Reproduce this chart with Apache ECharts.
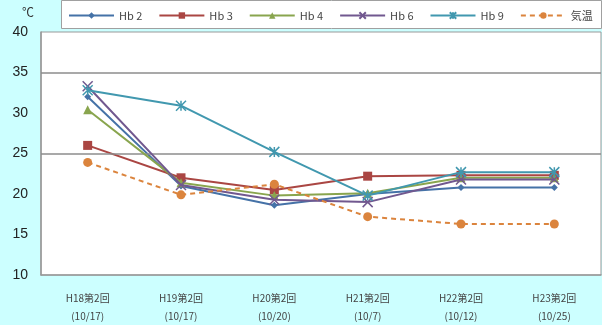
<!DOCTYPE html>
<html>
<head>
<meta charset="utf-8">
<script src="https://cdn.jsdelivr.net/npm/echarts@6/dist/echarts.min.js"></script>
<style>
html,body{margin:0;padding:0;background:#ccffff;}
#c{width:602px;height:325px;}
</style>
</head>
<body>
<div id="c"></div>
<script>
const categories = ['H18第2回\n(10/17)', 'H19第2回\n(10/17)', 'H20第2回\n(10/20)', 'H21第2回\n(10/7)', 'H22第2回\n(10/12)', 'H23第2回\n(10/25)'];
const seriesNames = ['Hb 2', 'Hb 3', 'Hb 4', 'Hb 6', 'Hb 9', '気温'];
const hb2 = [32.0, 21.0, 18.6, 20.0, 20.8, 20.8];
const hb3 = [26.0, 22.0, 20.5, 22.2, 22.3, 22.3];
const hb4 = [30.4, 21.4, 19.8, 20.1, 22.0, 22.0];
const hb6 = [33.3, 21.1, 19.3, 19.0, 21.8, 21.8];
const hb9 = [32.8, 30.9, 25.2, 19.8, 22.7, 22.7];
const kion = [23.9, 19.9, 21.2, 17.2, 16.3, 16.3];
const yTicks = [10, 15, 20, 25, 30, 35, 40];
const gridValues = [25, 35];

const colors = ['#4572A7', '#AA4643', '#89A54E', '#71588F', '#4198AF', '#DB843D'];
const xPath = 'path://M0,0L10,10M10,0L0,10';
const starPath = 'path://M0,0L10,10M10,0L0,10M5,0L5,10';
const symbols = ['diamond', 'rect', 'triangle', xPath, starPath, 'circle'];
const sizes = [7, 9, 9, 10, 10, 9];
const datas = [hb2, hb3, hb4, hb6, hb9, kion];

const series = datas.map((d, i) => {
  const isPath = typeof symbols[i] === 'string' && symbols[i].startsWith('path://');
  return {
    name: seriesNames[i],
    type: 'line',
    data: d,
    symbol: symbols[i],
    symbolSize: sizes[i],
    showAllSymbol: true,
    lineStyle: { color: colors[i], width: 2, type: i === 5 ? [5, 4] : 'solid' },
    itemStyle: isPath
      ? { color: 'rgba(0,0,0,0)', borderColor: colors[i], borderWidth: 1.5 }
      : { color: colors[i], borderWidth: 0 },
    z: 3 + i,
    animation: false
  };
});
series.push({
  type: 'line',
  data: [],
  silent: true,
  z: 1,
  markLine: {
    silent: true,
    symbol: 'none',
    label: { show: false },
    lineStyle: { color: '#8c8c8c', width: 1.5, type: 'solid' },
    data: gridValues.map(v => ({ yAxis: v }))
  }
});

const chart = echarts.init(document.getElementById('c'));
chart.setOption({
  backgroundColor: '#ccffff',
  animation: false,
  graphic: [
    { type: 'rect', shape: { x: 61.5, y: 0.5, width: 540, height: 28 }, style: { fill: '#ffffff', stroke: '#a0a0a0', lineWidth: 1 }, z: 0 },
    { type: 'text', left: 22, top: 6, style: { text: '℃', fontSize: 12, fill: '#333', fontFamily: 'Noto Sans CJK JP' } }
  ],
  legend: {
    data: seriesNames,
    left: 68,
    top: 10,
    width: 534,
    padding: 0,
    itemWidth: 45,
    itemHeight: 8,
    itemGap: 16,
    textStyle: { fontSize: 11, color: '#444', fontFamily: 'Noto Sans CJK JP' }
  },
  grid: {
    left: 41, right: 1, top: 32, bottom: 45,
    show: true, backgroundColor: '#ffffff', borderColor: '#999', borderWidth: 1
  },
  xAxis: {
    type: 'category',
    data: categories,
    boundaryGap: true,
    axisLine: { lineStyle: { color: '#999', width: 1.5 } },
    axisTick: { inside: true, length: 4, lineStyle: { color: '#bbb' } },
    axisLabel: { fontSize: 10, color: '#444', margin: 14, lineHeight: 18, fontFamily: 'Noto Sans CJK JP' }
  },
  yAxis: {
    type: 'value',
    min: yTicks[0],
    max: yTicks[yTicks.length - 1],
    interval: 5,
    splitLine: { show: false },
    axisLine: { show: true, lineStyle: { color: '#999', width: 1.5 } },
    axisTick: { show: false },
    axisLabel: { fontSize: 14, color: '#222', margin: 13, fontFamily: 'Liberation Sans' }
  },
  series: series
});
</script>
</body>
</html>
